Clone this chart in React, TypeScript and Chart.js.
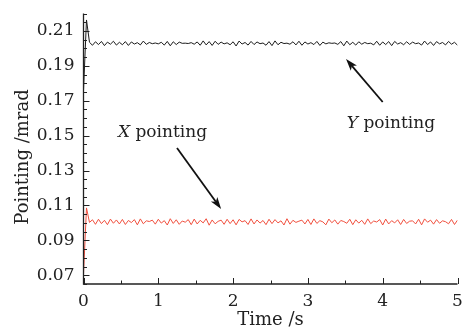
import { useEffect, useRef } from "react";
import { Chart, registerables } from "chart.js";

Chart.register(...registerables);

// sampling interval of the recorded signals (s)
const timeStep = 0.04;

const yPointing = [
  0.1760, 0.2163, 0.2035,
  0.2018, 0.2038, 0.2022, 0.2040, 0.2016, 0.2036, 0.2024, 0.2041, 0.2019, 0.2035,
  0.2021, 0.2039, 0.2017, 0.2037, 0.2025, 0.2033, 0.2020, 0.2042, 0.2023, 0.2034,
  0.2027, 0.2031, 0.2026, 0.2035, 0.2019, 0.2040, 0.2015, 0.2038, 0.2022, 0.2036,
  0.2029, 0.2030, 0.2028, 0.2033, 0.2024, 0.2037, 0.2018, 0.2043, 0.2020, 0.2039,
  0.2017, 0.2041, 0.2023, 0.2036, 0.2026, 0.2032, 0.2021, 0.2038, 0.2014, 0.2042,
  0.2025, 0.2034, 0.2019, 0.2040, 0.2022, 0.2037, 0.2027, 0.2031, 0.2018, 0.2039,
  0.2016, 0.2043, 0.2021, 0.2035, 0.2028, 0.2030, 0.2024, 0.2038, 0.2020, 0.2041,
  0.2018, 0.2037, 0.2025, 0.2033, 0.2022, 0.2040, 0.2017, 0.2036, 0.2026, 0.2032,
  0.2029, 0.2031, 0.2023, 0.2039, 0.2015, 0.2042, 0.2021, 0.2035, 0.2019, 0.2038,
  0.2024, 0.2034, 0.2027, 0.2030, 0.2020, 0.2041, 0.2018, 0.2037, 0.2022, 0.2039,
  0.2016, 0.2040, 0.2025, 0.2033, 0.2021, 0.2038, 0.2023, 0.2036, 0.2027, 0.2031,
  0.2019, 0.2042, 0.2022, 0.2037, 0.2017, 0.2039, 0.2026, 0.2034, 0.2020, 0.2040,
  0.2024, 0.2035, 0.2018,
];

const xPointing = [
  0.0705, 0.1086, 0.1003,
  0.1018, 0.0992, 0.1021, 0.0996, 0.1015, 0.0990, 0.1022, 0.0998, 0.1017, 0.0994,
  0.1020, 0.0991, 0.1014, 0.1002, 0.1019, 0.0989, 0.1023, 0.0995, 0.1012, 0.1008,
  0.1016, 0.0993, 0.1021, 0.0999, 0.1013, 0.0988, 0.1024, 0.0997, 0.1018, 0.0992,
  0.1011, 0.1004, 0.1019, 0.0990, 0.1022, 0.0994, 0.1015, 0.1000, 0.1024, 0.0987,
  0.1017, 0.0995, 0.1009, 0.1016, 0.0992, 0.1021, 0.0996, 0.1018, 0.0989, 0.1020,
  0.1006, 0.1013, 0.0991, 0.1023, 0.0994, 0.1017, 0.0999, 0.1014, 0.0990, 0.1021,
  0.0996, 0.1019, 0.1000, 0.1012, 0.0988, 0.1024, 0.0993, 0.1015, 0.1003, 0.1010,
  0.1016, 0.0994, 0.1020, 0.0991, 0.1023, 0.0997, 0.1013, 0.1006, 0.0989, 0.1022,
  0.1001, 0.1017, 0.0993, 0.1014, 0.1008, 0.0998, 0.1021, 0.0990, 0.1018, 0.0999,
  0.1015, 0.0992, 0.1023, 0.0996, 0.1011, 0.1005, 0.1019, 0.0988, 0.1022, 0.0994,
  0.1013, 0.1000, 0.1018, 0.0991, 0.1020, 0.0997, 0.1010, 0.1012, 0.0994, 0.1021,
  0.0989, 0.1023, 0.1004, 0.1016, 0.0993, 0.1019, 0.0998, 0.1012, 0.1007, 0.0995,
  0.1020, 0.0991, 0.1016,
];

const xTicks = [0, 1, 2, 3, 4, 5];
const xMinorTicks = [0.5, 1.5, 2.5, 3.5, 4.5];
const yTicks = [0.07, 0.09, 0.11, 0.13, 0.15, 0.17, 0.19, 0.21];
const yMinorTicks = [
  0.065, 0.075, 0.08, 0.085, 0.095, 0.1, 0.105, 0.115, 0.12, 0.125, 0.135, 0.14,
  0.145, 0.155, 0.16, 0.165, 0.175, 0.18, 0.185, 0.195, 0.2, 0.205, 0.215, 0.22,
];
const xRange = [0, 5];
const yRange = [0.065, 0.22];

const xTitle = "Time /s";
const yTitle = "Pointing /mrad";

// annotations: label position (left, baseline) and arrow tail -> head, in data units
const labelNames = ["Y", "X"];
const labelSuffix = " pointing";
const labelAt = [
  [3.52, 0.1544],
  [0.46, 0.1492],
];
const arrowFrom = [
  [4.0, 0.1693],
  [1.25, 0.1429],
];
const arrowTo = [
  [3.51, 0.1939],
  [1.84, 0.108],
];

const FONT = "'DejaVu Serif', serif";
const INK = "#222222";

const overlay = {
  id: "overlay",
  afterDraw(chart: any) {
    const ctx = chart.ctx as CanvasRenderingContext2D;
    const { left, right, top, bottom } = chart.chartArea;
    const xs = chart.scales.x;
    const ys = chart.scales.y;
    ctx.save();
    ctx.strokeStyle = INK;
    ctx.lineWidth = 1.3;
    ctx.beginPath();
    ctx.moveTo(left, top);
    ctx.lineTo(left, bottom);
    ctx.lineTo(right, bottom);
    ctx.stroke();
    ctx.lineWidth = 1;
    ctx.beginPath();
    for (const v of yTicks) {
      const p = Math.round(ys.getPixelForValue(v)) + 0.5;
      ctx.moveTo(left, p);
      ctx.lineTo(left + 6, p);
    }
    for (const v of yMinorTicks) {
      const p = Math.round(ys.getPixelForValue(v)) + 0.5;
      ctx.moveTo(left, p);
      ctx.lineTo(left + 3.5, p);
    }
    for (const v of xTicks) {
      const p = Math.round(xs.getPixelForValue(v)) + 0.5;
      ctx.moveTo(p, bottom);
      ctx.lineTo(p, bottom - 6);
    }
    for (const v of xMinorTicks) {
      const p = Math.round(xs.getPixelForValue(v)) + 0.5;
      ctx.moveTo(p, bottom);
      ctx.lineTo(p, bottom - 3.5);
    }
    ctx.stroke();

    // axis titles
    ctx.fillStyle = INK;
    ctx.font = `18px ${FONT}`;
    ctx.textAlign = "center";
    ctx.textBaseline = "alphabetic";
    ctx.fillText(xTitle, (left + right) / 2, 325);
    ctx.save();
    ctx.translate(28, 157);
    ctx.rotate(-Math.PI / 2);
    ctx.fillText(yTitle, 0, 0);
    ctx.restore();

    // annotations
    ctx.textAlign = "left";
    for (let i = 0; i < labelNames.length; i++) {
      const lx = xs.getPixelForValue(labelAt[i][0]);
      const ly = ys.getPixelForValue(labelAt[i][1]);
      ctx.font = `italic 17px ${FONT}`;
      ctx.fillText(labelNames[i], lx, ly);
      const w = ctx.measureText(labelNames[i]).width;
      ctx.font = `17px ${FONT}`;
      ctx.fillText(labelSuffix, lx + w, ly);

      const x0 = xs.getPixelForValue(arrowFrom[i][0]);
      const y0 = ys.getPixelForValue(arrowFrom[i][1]);
      const x1 = xs.getPixelForValue(arrowTo[i][0]);
      const y1 = ys.getPixelForValue(arrowTo[i][1]);
      const ang = Math.atan2(y1 - y0, x1 - x0);
      const hl = 12;
      const hw = 4;
      const bx = x1 - hl * Math.cos(ang);
      const by = y1 - hl * Math.sin(ang);
      ctx.strokeStyle = "#111";
      ctx.lineWidth = 1.8;
      ctx.beginPath();
      ctx.moveTo(x0, y0);
      ctx.lineTo(bx + 3 * Math.cos(ang), by + 3 * Math.sin(ang));
      ctx.stroke();
      ctx.fillStyle = "#111";
      ctx.beginPath();
      ctx.moveTo(x1, y1);
      ctx.lineTo(bx + hw * Math.sin(ang), by - hw * Math.cos(ang));
      ctx.lineTo(bx + 3 * Math.cos(ang), by + 3 * Math.sin(ang));
      ctx.lineTo(bx - hw * Math.sin(ang), by + hw * Math.cos(ang));
      ctx.closePath();
      ctx.fill();
      ctx.fillStyle = INK;
    }
    ctx.restore();
  },
};

const zeroPad = (s: any) => {
  s.paddingTop = 0;
  s.paddingBottom = 0;
  s.paddingLeft = 0;
  s.paddingRight = 0;
};

export default function App() {
  const ref = useRef<HTMLCanvasElement | null>(null);
  useEffect(() => {
    if (!ref.current) return;
    const toPoints = (arr: number[]) => arr.map((v, i) => ({ x: i * timeStep, y: v }));
    const chart = new Chart(ref.current, {
      type: "line",
      data: {
        datasets: [
          {
            label: "Y pointing",
            data: toPoints(yPointing),
            borderColor: "#1c1c1c",
            borderWidth: 1,
            pointRadius: 0,
            tension: 0,
          },
          {
            label: "X pointing",
            data: toPoints(xPointing),
            borderColor: "#f0503f",
            borderWidth: 1,
            pointRadius: 0,
            tension: 0,
          },
        ],
      },
      options: {
        animation: false,
        responsive: false,
        devicePixelRatio: 1,
        layout: { padding: { top: 13.5, right: 6.5, left: 0, bottom: 0 } },
        plugins: { legend: { display: false }, tooltip: { enabled: false } },
        scales: {
          x: {
            type: "linear",
            min: xRange[0],
            max: xRange[1],
            grid: { display: false, drawTicks: false },
            border: { display: false },
            afterBuildTicks: (s: any) => {
              s.ticks = xTicks.map((v) => ({ value: v }));
            },
            afterFit: (s: any) => {
              s.height = 45;
              zeroPad(s);
            },
            ticks: {
              padding: 7,
              maxRotation: 0,
              color: INK,
              font: { family: FONT, size: 17 },
              callback: (v: any) => String(v),
            },
          },
          y: {
            type: "linear",
            min: yRange[0],
            max: yRange[1],
            grid: { display: false, drawTicks: false },
            border: { display: false },
            afterBuildTicks: (s: any) => {
              s.ticks = yTicks.map((v) => ({ value: v }));
            },
            afterFit: (s: any) => {
              s.width = 83.5;
              zeroPad(s);
            },
            ticks: {
              padding: 9,
              color: INK,
              font: { family: FONT, size: 17 },
              callback: (v: any) => Number(v).toFixed(2),
            },
          },
        },
      },
      plugins: [overlay],
    });
    return () => chart.destroy();
  }, []);
  return (
    <div style={{ position: "fixed", left: 0, top: 0, width: 464, height: 329, background: "#fff" }}>
      <canvas ref={ref} width={464} height={329} />
    </div>
  );
}
